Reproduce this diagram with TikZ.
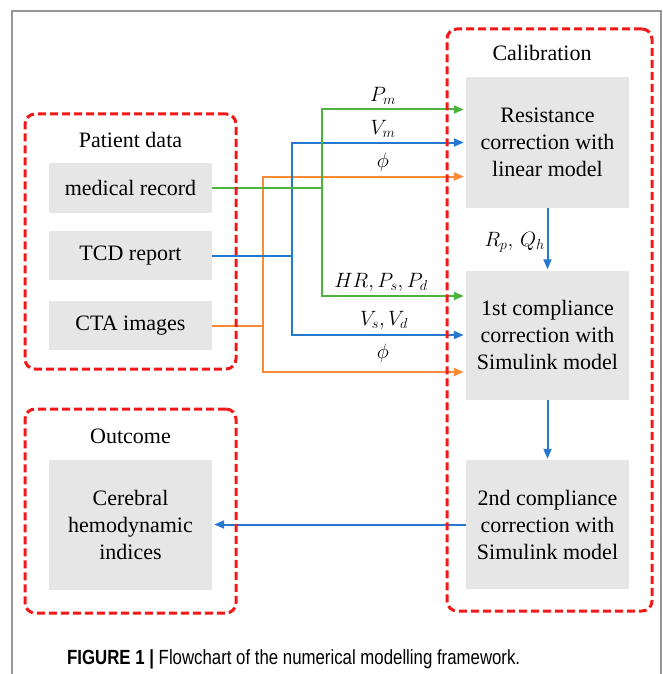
\documentclass[tikz,border=0pt]{standalone}
\usepackage{fontspec}
\usepackage{graphicx}
\setmainfont{Liberation Serif}
\newfontfamily\capfont{Liberation Sans}
\usetikzlibrary{arrows.meta}

\definecolor{dashred}{RGB}{242,24,24}
\definecolor{boxgray}{RGB}{230,230,230}
\definecolor{frgray}{RGB}{150,150,150}
\definecolor{lgreen}{RGB}{78,178,62}
\definecolor{lblue}{RGB}{36,120,208}
\definecolor{lorange}{RGB}{250,138,52}

\tikzset{
  txt/.style={font=\fontsize{22}{27}\selectfont},
  graybox/.style={txt, fill=boxgray, draw=none, minimum width=163pt, align=center, inner sep=0pt},
  grouptitle/.style={txt, inner sep=0pt},
  groupbox/.style={draw=dashred, line width=3pt, dash pattern=on 8pt off 4pt, rounded corners=10pt},
  conn/.style={line width=2pt, -{Triangle[length=10pt,width=8pt]}, shorten >=2pt},
  plain/.style={line width=2pt},
  mlab/.style={font=\fontsize{22}{26}\selectfont, inner sep=0pt},
}

\begin{document}
\begin{tikzpicture}[x=1pt,y=-1pt]
\useasboundingbox (0,0) rectangle (663,674);

% outer frame (open at the bottom)
\draw[frgray, line width=2pt] (12,674) -- (12,11) -- (661,11) -- (661,674);

% gray process boxes
\node[graybox, minimum height=50pt] (med) at (130.5,188) {medical record};
\node[graybox, minimum height=49pt] (tcd) at (130.5,255.5) {TCD report};
\node[graybox, minimum height=49pt] (cta) at (130.5,325.5) {CTA images};
\node[graybox, minimum height=130pt] (cer) at (130.5,524.5) {Cerebral\\hemodynamic\\indices};
\node[graybox, minimum height=130pt] (res) at (547.5,142.5) {Resistance\\correction with\\linear model};
\node[graybox, minimum height=129pt] (c1) at (547.5,335) {1st compliance\\correction with\\Simulink model};
\node[graybox, minimum height=129pt] (c2) at (547.5,524.5) {2nd compliance\\correction with\\Simulink model};

% group titles
\node[grouptitle] (tpat) at (130.5,140) {Patient data};
\node[grouptitle] (tout) at (130.5,436) {Outcome};
\node[grouptitle] (tcal) at (542,53) {Calibration};

% branching points
\coordinate (oj) at (263,325.5);
\coordinate (bj) at (292,255.5);
\coordinate (gj) at (322,188);

% orange: CTA images
\draw[lorange, plain] (cta.east) -- (oj);
\draw[lorange, conn] (oj) |- ([yshift=-34pt]res.west);
\draw[lorange, conn] (oj) |- ([yshift=-37pt]c1.west);

% blue: TCD report
\draw[lblue, plain] (tcd.east) -- (bj);
\draw[lblue, conn] (bj) |- (res.west);
\draw[lblue, conn] (bj) |- (c1.west);

% green: medical record
\draw[lgreen, plain] (med.east) -- (gj);
\draw[lgreen, conn] (gj) |- ([yshift=33pt]res.west);
\draw[lgreen, conn] (gj) |- ([yshift=39pt]c1.west);

% calibration chain and output
\draw[lblue, conn, shorten >=1pt] (res.south) -- (c1.north);
\draw[lblue, conn, shorten >=1pt] (c1.south) -- (c2.north);
\draw[lblue, conn] (c2.west) -- (cer.east);

% connector labels
\node[mlab] (lpm) at (383,96) {$P_m$};
\node[mlab] (lvm) at (383,129) {$V_m$};
\node[mlab] (lph1) at (383,162) {$\phi$};
\node[mlab] (lhr) at (381,282) {$HR, P_s, P_d$};
\node[mlab] (lvs) at (384,320) {$V_s, V_d$};
\node[mlab] (lph2) at (383,353) {$\phi$};
\node[mlab, anchor=east] (lrq) at (545,242) {$R_p,\,Q_h$};

% dashed group frames
\node[groupbox, minimum width=211pt, minimum height=255pt] (gpat) at (130.5,241.5) {};
\node[groupbox, minimum width=211pt, minimum height=204pt] (gout) at (130.5,511) {};
\node[groupbox, minimum width=205pt, minimum height=582pt] (gcal) at (549.5,320) {};

% caption
\node[anchor=west, inner sep=0pt] (cap) at (67,659)
  {\resizebox{453pt}{\height}{\capfont\fontsize{20.5}{22}\selectfont\textbf{FIGURE 1} \textbf{|} Flowchart of the numerical modelling framework.}};
\end{tikzpicture}
\end{document}
